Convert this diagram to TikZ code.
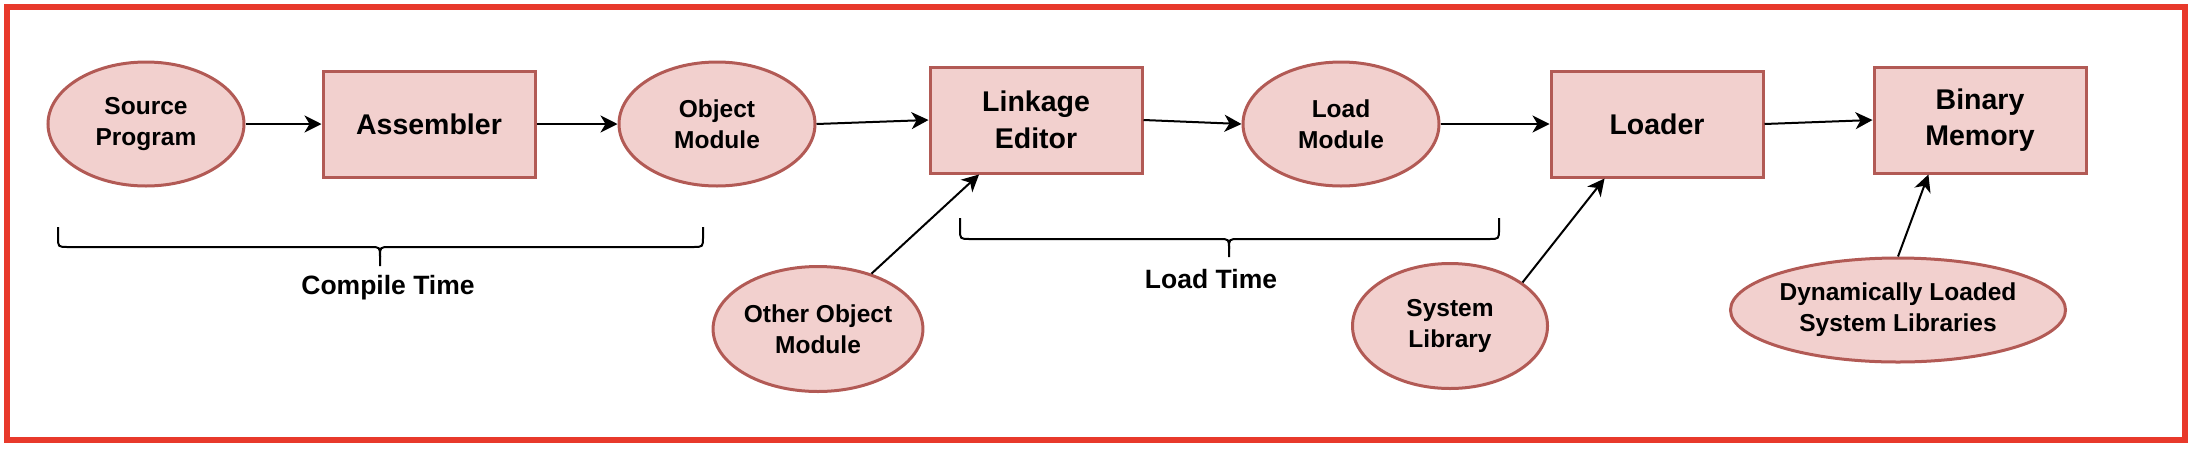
\documentclass[tikz,border=0pt]{standalone}
\usepackage{fontspec}
\setmainfont{Liberation Sans}
\usetikzlibrary{shapes.geometric,arrows.meta,calc}
\definecolor{nodefill}{HTML}{F2D0CE}
\definecolor{nodeline}{HTML}{B25A55}
\definecolor{frame}{HTML}{E8392B}
\begin{document}
\begin{tikzpicture}[x=1pt,y=-1pt,
  ell/.style={ellipse,draw=nodeline,fill=nodefill,line width=3pt,inner sep=0pt,align=center,
    font=\fontsize{24.5}{31}\selectfont\bfseries},
  boxn/.style={rectangle,draw=nodeline,fill=nodefill,line width=3pt,inner sep=0pt,align=center,
    minimum width=212pt,minimum height=106pt,font=\fontsize{28.5}{36.7}\selectfont\bfseries},
  lbl/.style={font=\fontsize{26.5}{32}\selectfont\bfseries,inner sep=0pt},
  arr/.style={line width=2pt,-{Stealth[length=17pt,width=17pt,inset=5pt]}},
  brc/.style={line width=2pt}]
\useasboundingbox (0,0) rectangle (2194,448);
\draw[frame,line width=6pt] (7,7) rectangle (2185,440);

\node[ell,minimum width=196pt,minimum height=124pt] (sp) at (146,124) {Source\\Program};
\node[boxn] (asm) at (429,124) {Assembler};
\node[ell,minimum width=196pt,minimum height=124pt] (om) at (717,124) {Object\\Module};
\node[boxn] (le) at (1036,120) {Linkage\\Editor};
\node[ell,minimum width=196pt,minimum height=124pt] (lm) at (1341,124) {Load\\Module};
\node[boxn] (ld) at (1657,124) {Loader};
\node[boxn] (bm) at (1980,120) {Binary\\Memory};
\node[ell,minimum width=197pt,minimum height=125pt] (oom) at (818,329) {Other Object\\Module};
\node[ell,minimum width=195pt,minimum height=125pt] (sl) at (1450,326) {System\\Library};
\node[ell,minimum width=334pt,minimum height=104pt] (dl) at (1898,310) {Dynamically Loaded\\System Libraries};

\draw[arr] (sp.east) -- (asm.west);
\draw[arr] (asm.east) -- (om.west);
\draw[arr] (om.east) -- (le.west);
\draw[arr] (le.east) -- (lm.west);
\draw[arr] (lm.east) -- (ld.west);
\draw[arr] (ld.east) -- (bm.west);
\coordinate (lein) at ($(le.south west)!0.235!(le.south east)$);
\draw[arr] (oom.46) -- (lein);
\coordinate (ldin) at ($(ld.south west)!0.256!(ld.south east)$);
\draw[arr] (sl.31) -- (ldin);
\coordinate (bmin) at ($(bm.south west)!0.26!(bm.south east)$);
\draw[arr] (dl.north) -- (bmin);

\draw[brc] (58,227) -- (58,237) .. controls (58,247) .. (68,247) -- (370,247)
  .. controls (380,247) .. (380,257) -- (380,266);
\draw[brc] (380,257) .. controls (380,247) .. (390,247) -- (693,247)
  .. controls (703,247) .. (703,237) -- (703,227);
\node[lbl] (ct) at (388,288) {Compile Time};

\draw[brc] (960,218) -- (960,229) .. controls (960,239) .. (970,239) -- (1219,239)
  .. controls (1229,239) .. (1229,249) -- (1229,257);
\draw[brc] (1229,249) .. controls (1229,239) .. (1239,239) -- (1489,239)
  .. controls (1499,239) .. (1499,229) -- (1499,218);
\node[lbl] (lt) at (1211,279) {Load Time};
\end{tikzpicture}
\end{document}
